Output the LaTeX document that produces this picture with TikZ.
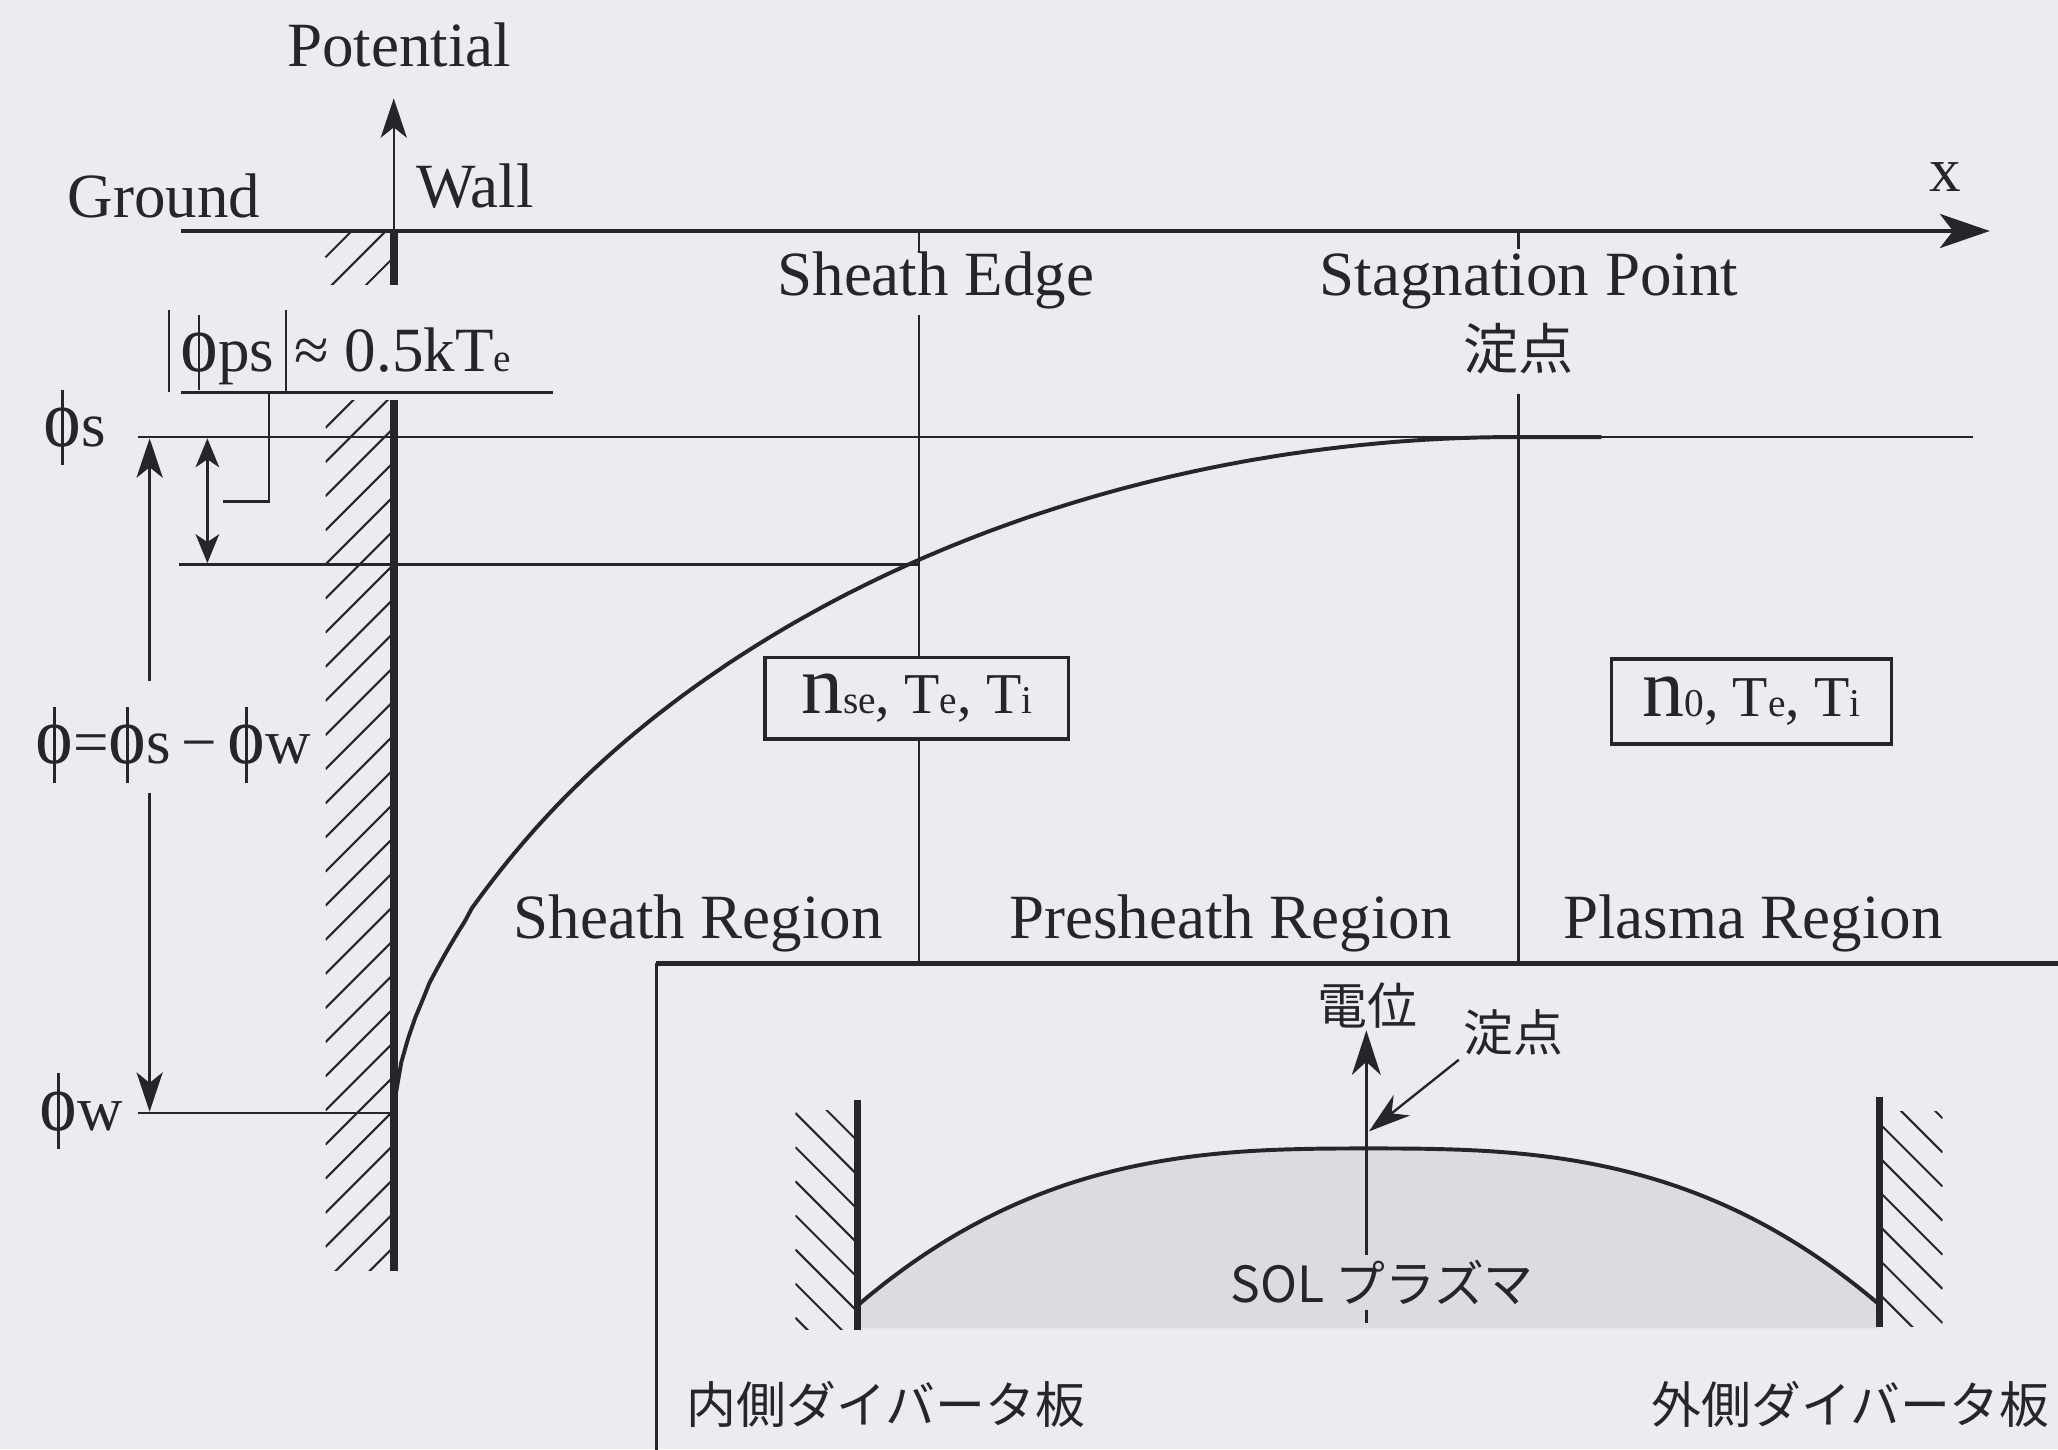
\documentclass[tikz,border=0pt]{standalone}
\usepackage{fontspec}
\usepackage{graphicx}
\setmainfont{Liberation Serif}
\newfontfamily\jp{Noto Sans CJK JP}
\usetikzlibrary{arrows.meta}
\definecolor{bg}{RGB}{236,235,239}
\definecolor{ink}{RGB}{38,38,42}
\definecolor{domefill}{RGB}{220,220,224}
\newcommand{\phis}{\ooalign{\hfil\rule[-0.3em]{0.04em}{1.2em}\hfil\cr\scalebox{1.2}[1.3]{o}\cr}}
\newcommand{\sbs}[1]{{\fontsize{15}{17}\selectfont #1}}
\begin{document}
\begin{tikzpicture}[x=0.5pt,y=-0.5pt,
  every node/.style={inner sep=0pt, text=ink, font=\fontsize{24}{28}\selectfont},
  thinl/.style={draw=ink, line width=0.9pt},
  axisl/.style={draw=ink, line width=1.3pt},
  wallline/.style={draw=ink, line width=3pt},
  hatchl/.style={draw=ink, line width=0.8pt},
  curvel/.style={draw=ink, line width=1.5pt},
  bigtip/.style={-{Stealth[length=15pt,width=10pt,inset=4pt]}},
  jptext/.style={font=\jp\fontsize{19}{22}\selectfont},
  boxnode/.style={draw=ink, fill=bg, line width=1.3pt, font=\fontsize{22}{26}\selectfont}
]
\fill[bg] (0,0) rectangle (1568,1104);
\useasboundingbox (0,0) rectangle (1568,1104);

% ---------- axes ----------
\coordinate (ax0) at (138,176);
\coordinate (ax1) at (1516,176);
\coordinate (wtop) at (300,176);
\coordinate (ptip) at (300,75);
\draw[axisl, -{Stealth[length=19pt,width=13pt,inset=5pt]}] (ax0) -- (ax1);
\draw[thinl, bigtip] (wtop) -- (ptip);

% ---------- wall (top piece) ----------
\begin{scope}
  \clip (247,176) rectangle (300,217);
  \foreach \y in {196,222,248,274} \draw[hatchl] (248,\y) -- (300,\y-52);
\end{scope}
\draw[wallline] (300,176) -- (300,217);

% ---------- wall (main) ----------
\begin{scope}
  \clip (248,305) rectangle (300,968);
  \foreach \y in {300,326,...,1030} \draw[hatchl] (248,\y) -- (300,\y-52);
\end{scope}
\draw[wallline] (300,305) -- (300,968);

% ---------- horizontal levels ----------
\draw[thinl] (105,333) -- (1503,333);
\draw[thinl] (136,430) -- (700,430);
\draw[thinl] (105,848) -- (300,848);

% ---------- vertical markers ----------
\draw[thinl] (700,176) -- (700,192);
\draw[thinl] (700,240) -- (700,734);
\draw[thinl] (1157,176) -- (1157,190);
\draw[thinl] (1157,300) -- (1157,734);

% ---------- |phi_ps| annotation ----------
\draw[thinl] (129,236) -- (129,299);
\draw[thinl] (218,236) -- (218,299);
\draw[thinl] (138,299) -- (421,299);
\draw[thinl] (205,299) -- (205,382) -- (170,382);
\draw[thinl, {Stealth[length=11pt,width=9pt,inset=3pt]}-{Stealth[length=11pt,width=9pt,inset=3pt]}] (158,334) -- (158,429);

% ---------- big phi arrow ----------
\draw[thinl, bigtip] (114,519) -- (114,334);
\draw[thinl, bigtip] (114,604) -- (114,847);

% ---------- potential curve ----------
\draw[curvel] (300,848) -- plot[domain=0.0005:1, samples=160, variable=\t] ({300+857*\t},{848-515*(1-(1-\t)^2)^0.6}) -- (1220,333);

% ---------- labels ----------
\node[anchor=base] (pot) at (304,51) {Potential};
\node[anchor=base] (gnd) at (125,166) {Ground};
\node[anchor=base] (wall) at (362,158) {Wall};
\node[anchor=base] (xl) at (1482,146) {x};
\node[anchor=base] (sedge) at (713,225) {Sheath Edge};
\node[anchor=base] (stag) at (1165,225) {Stagnation Point};
\node[font=\jp\fontsize{21}{24}\selectfont] (stagjp) at (1157,266) {淀点};
\node[anchor=base west] (phps) at (137,283) {\phis ps};
\node[anchor=base west] (approx) at (224,283) {≈ 0.5kT\sbs{e}};
\node[anchor=base] (phs) at (57,340) {\phis s};
\node[anchor=base] (phdiff) at (132,582) {\phis=\phis s\,−\,\phis w};
\node[anchor=base] (phw) at (62,861) {\phis w};

\node[boxnode, minimum width=115.5pt, minimum height=31pt] (b1) at (698.5,532)
  {{\fontsize{32}{34}\selectfont n}\sbs{se}, T\sbs{e}, T\sbs{i}};
\node[boxnode, minimum width=106.5pt, minimum height=32.5pt] (b2) at (1334.5,534.5)
  {{\fontsize{32}{34}\selectfont n}\sbs{0}, T\sbs{e}, T\sbs{i}};

\node[anchor=base] (rsh) at (532,715) {Sheath Region};
\node[anchor=base] (rpre) at (937.5,715) {Presheath Region};
\node[anchor=base] (rpl) at (1335.5,715) {Plasma Region};

% ---------- inset ----------
\draw[draw=ink, line width=1.7pt] (500,734) -- (1572,734);
\draw[draw=ink, line width=1.1pt] (500,734) -- (500,1108);

\fill[domefill] (653,1012) -- plot[domain=653:1432, samples=150] (\x,{875+120*(abs(\x-1043)/390)^2.8}) -- (1432,1012) -- cycle;
\draw[curvel] plot[domain=653:1432, samples=150] (\x,{875+120*(abs(\x-1043)/390)^2.8});

\begin{scope}
  \clip (606,846) rectangle (653,1013);
  \foreach \y in {796,822,...,1010} \draw[hatchl] (606,\y) -- (653,\y+47);
\end{scope}
\draw[wallline, line width=2.7pt] (653,838) -- (653,1013);
\begin{scope}
  \clip (1432,847) rectangle (1480,1011);
  \foreach \y in {804,830,...,1010} \draw[hatchl] (1432,\y) -- (1480,\y+48);
\end{scope}
\draw[wallline, line width=2.7pt] (1432,836) -- (1432,1011);

\coordinate (sbase) at (1041,1008);
\coordinate (stip) at (1041,785);
\coordinate (peak) at (1043,862);
\draw[thinl, -{Stealth[length=17pt,width=11pt,inset=5pt]}] (sbase) -- (stip);
\node[jptext, fill=domefill, inner sep=2pt] (sol) at (1053,977) {SOL プラズマ};
\node[jptext] (vpot) at (1042,766) {電位};
\node[jptext] (stag2) at (1153,787) {淀点};
\draw[thinl, shorten <=2pt, -{Stealth[length=16pt,width=10pt,inset=5pt]}] (stag2.south west) -- (peak);
\node[jptext, anchor=west] (inner) at (523,1070) {内側ダイバータ板};
\node[jptext, anchor=east] (outer) at (1562,1070) {外側ダイバータ板};
\end{tikzpicture}
\end{document}
